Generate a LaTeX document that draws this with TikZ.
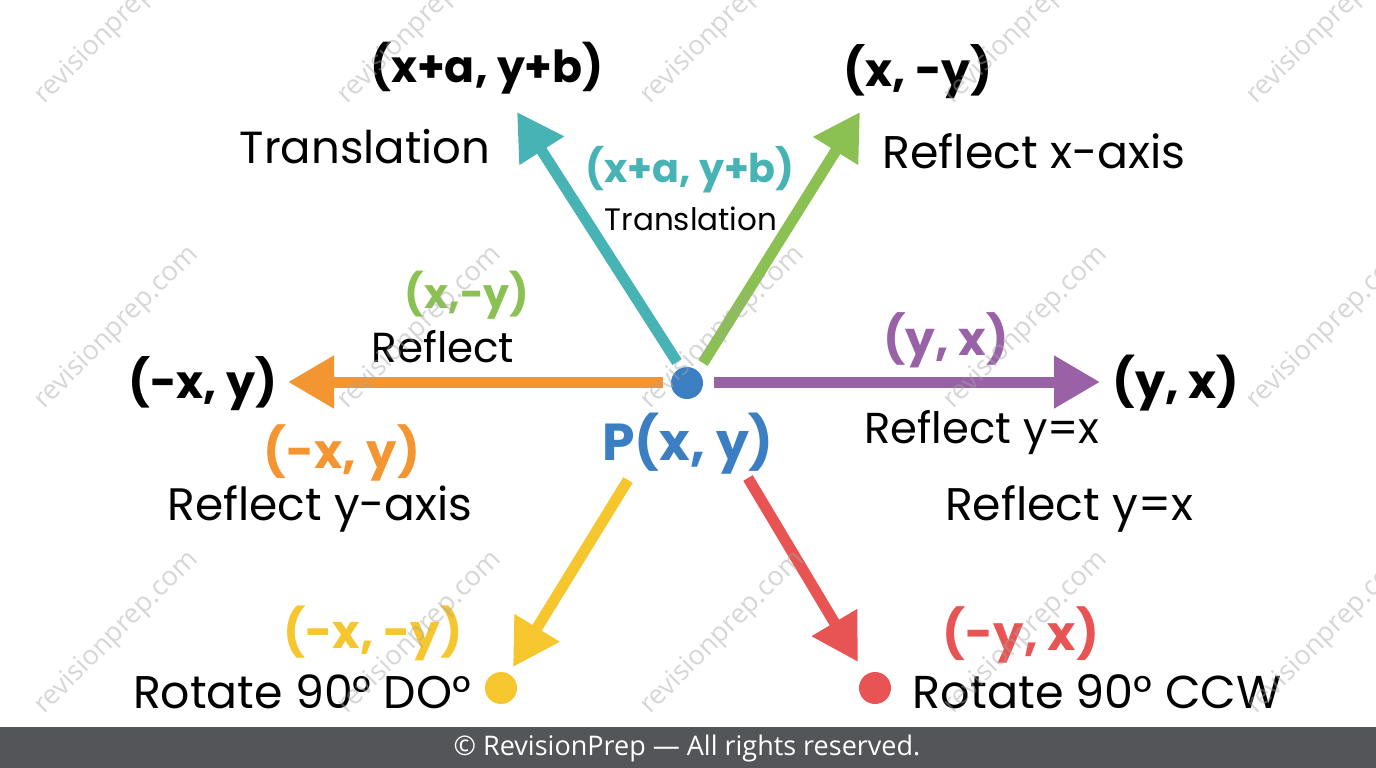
\documentclass[tikz,border=0pt]{standalone}
\usepackage{fontspec}
\setmainfont{Poppins}
\newfontfamily\osans{Open Sans}
\usetikzlibrary{arrows.meta}
\definecolor{cteal}{HTML}{47B3B5}
\definecolor{cgreen}{HTML}{8BC152}
\definecolor{corange}{HTML}{F39530}
\definecolor{cpurple}{HTML}{9A62A6}
\definecolor{cyellow}{HTML}{F6C62E}
\definecolor{cred}{HTML}{E85454}
\definecolor{cblue}{HTML}{3B7FC2}
\definecolor{cfoot}{HTML}{545559}
\newcommand{\fs}[1]{\fontsize{#1}{#1}\selectfont}
\tikzset{
  arr/.style={line width=11pt, -{Triangle[length=46pt,width=50pt]}},
  lbl/.style={anchor=base, inner sep=0pt, text=black},
  wm/.style={inner sep=0pt, text=gray!70, opacity=0.45, font=\osans\fs{27}},
  dotc/.style={circle, inner sep=0pt, minimum size=32pt},
}
\begin{document}
\begin{tikzpicture}[x=1pt,y=-1pt]
\useasboundingbox (0,0) rectangle (1376,768);
\fill[white] (0,0) rectangle (1376,768);
% footer
\node[fill=cfoot, minimum width=1376pt, minimum height=41pt, inner sep=0pt, anchor=north west] (foot) at (0,727) {};
\node[text=white, font=\osans\fs{27}, inner sep=0pt] (ftext) at (687,748) {© RevisionPrep — All rights reserved.};
% center point
\node[dotc, fill=cblue] (P) at (687,383) {};
% coordinates of arrow ends
\coordinate (tS) at (677,362);  \coordinate (tE) at (517,112);
\coordinate (gS) at (703,363);  \coordinate (gE) at (860,112);
\coordinate (oS) at (663,382);  \coordinate (oE) at (288,382);
\coordinate (pS) at (714,382);  \coordinate (pE) at (1100,382);
\coordinate (yS) at (628,480);  \coordinate (yE) at (513,667);
\coordinate (rS) at (748,478);  \coordinate (rE) at (858,662);
\draw[arr, cteal] (tS) -- (tE);
\draw[arr, cgreen] (gS) -- (gE);
\draw[arr, corange] (oS) -- (oE);
\draw[arr, cpurple] (pS) -- (pE);
\draw[arr, cyellow] (yS) -- (yE);
\draw[arr, cred] (rS) -- (rE);
\node[dotc, fill=cyellow] (ydot) at (501,688) {};
\node[dotc, fill=cred] (rdot) at (875,688) {};
% labels
\node[lbl, font=\bfseries\fs{44.2}] (c1) at (487,82) {(x+a, y+b)};
\node[lbl, font=\fs{45}] (l1) at (365,163) {Translation};
\node[lbl, font=\bfseries\fs{39.6}, text=cteal] (c2) at (690,182) {(x+a, y+b)};
\node[lbl, font=\fs{31}] (l2) at (691,230) {Translation};
\node[lbl, font=\bfseries\fs{46}] (c3) at (918,87) {(x, -y)};
\node[lbl, font=\fs{45.8}] (l3) at (1034,168) {Reflect x-axis};
\node[lbl, font=\bfseries\fs{41}, text=cgreen] (c4) at (467,308) {(x,-y)};
\node[lbl, font=\fs{42}] (l4) at (443,362) {Reflect};
\node[lbl, font=\bfseries\fs{46}] (c5) at (203,398) {(-x, y)};
\node[lbl, font=\bfseries\fs{48}, text=corange] (c6) at (342,468) {(-x, y)};
\node[lbl, font=\fs{45.5}] (l6) at (320,520) {Reflect y-axis};
\node[lbl, font=\bfseries\fs{52}, text=cblue] (pl) at (688,460) {P(x, y)};
\node[lbl, font=\bfseries\fs{47}, text=cpurple] (c7) at (946,355) {(y, x)};
\node[lbl, font=\bfseries\fs{47.6}] (c8) at (1176,398) {(y, x)};
\node[lbl, font=\fs{43.3}] (l7) at (982,443) {Reflect y=x};
\node[lbl, font=\fs{45.7}] (l8) at (1069,520) {Reflect y=x};
\node[lbl, font=\bfseries\fs{46.7}, text=cyellow] (c9) at (373,648) {(-x, -y)};
\node[lbl, font=\fs{45.8}] (l9) at (302,708) {Rotate 90° DO°};
\node[lbl, font=\bfseries\fs{48}, text=cred] (c10) at (1021,650) {(-y, x)};
\node[lbl, font=\fs{46.1}] (l10) at (1097,708) {Rotate 90° CCW};
% watermarks
\foreach \i in {0,...,4}{
  \foreach \j in {0,1,2}{
    \node[wm, rotate=45] (wm\i\j) at ({117+303*\i},{23+305*\j}) {revisionprep.com};
  }
}
\end{tikzpicture}
\end{document}
